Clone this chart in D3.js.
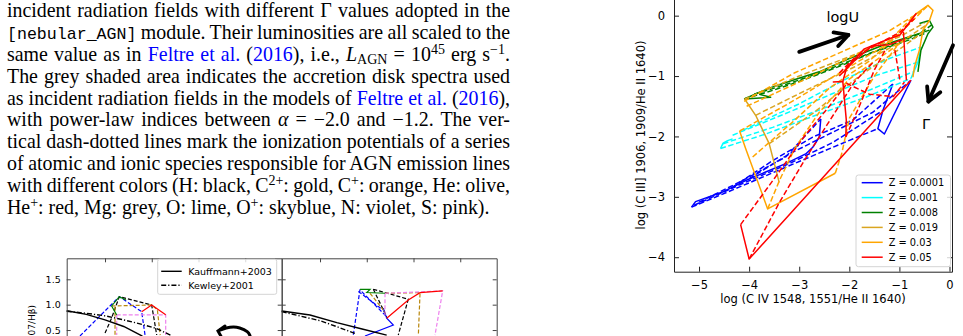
<!DOCTYPE html>
<html>
<head>
<meta charset="utf-8">
<script src="https://cdn.jsdelivr.net/npm/d3@7"></script>
<style>
html, body { margin: 0; padding: 0; background: #fff; }
svg { display: block; }
</style>
</head>
<body>
<svg id="page" width="963" height="336"></svg>
<script>
// ---- caption text (one array per printed line) ----
var captionLines = [
    [['incident radiation fields with different \u0393 values adopted in the', 'n']],
    [['[nebular_AGN]', 'mono'], [' module. Their luminosities are all scaled to the', 'n']],
    [['same value as in ', 'n'], ['Feltre et al.', 'link'], [' (', 'n'], ['2016', 'link'], ['), i.e., ', 'n'],
     ['L', 'ital'], ['AGN', 'sub'], [' = 10', 'n'], ['45', 'sup'], [' erg s', 'n'], ['\u22121', 'sup'], ['.', 'n']],
    [['The grey shaded area indicates the accretion disk spectra used', 'n']],
    [['as incident radiation fields in the models of ', 'n'], ['Feltre et al.', 'link'], [' (', 'n'], ['2016', 'link'], ['),', 'n']],
    [['with power-law indices between ', 'n'], ['\u03b1', 'ital'], [' = \u22122.0 and \u22121.2. The ver-', 'n']],
    [['tical dash-dotted lines mark the ionization potentials of a series', 'n']],
    [['of atomic and ionic species responsible for AGN emission lines', 'n']],
    [['with different colors (H: black, C', 'n'], ['2+', 'sup'], [': gold, C', 'n'], ['+', 'sup'], [': orange, He: olive,', 'n']],
    [['He', 'n'], ['+', 'sup'], [': red, Mg: grey, O: lime, O', 'n'], ['+', 'sup'], [': skyblue, N: violet, S: pink).', 'n']]
];

// ---- right chart: log CIII]/HeII vs log CIV/HeII ----
var xTicksR = [-5, -4, -3, -2, -1, 0];
var yTicksR = [-4, -3, -2, -1, 0];
var zLabels = ['Z = 0.0001', 'Z = 0.001', 'Z = 0.008', 'Z = 0.019', 'Z = 0.03', 'Z = 0.05'];
var zColors = ['#0000ff', '#00ffff', '#008000', '#daa520', '#ffa500', '#ff0000'];

// each track: [colour index, dashed?, points]
var tracksZ0001 = [
    [0, false, [[-5.15, -3.17], [-5.07, -3.08], [-4.53, -2.92], [-4.33, -2.84], [-4.07, -2.73], [-3.67, -2.59], [-3.27, -2.45], [-2.87, -2.29], [-2.73, -2.18], [-2.6, -2.01], [-2.57, -1.71]]],
    [0, false, [[-1.13, -1.13], [-1.33, -1.57], [-1.43, -1.87], [-1.3, -1.96], [-0.77, -1.07]]],
    [0, true, [[-5.15, -3.17], [-4.2, -2.84], [-3.27, -2.51], [-2.33, -2.18], [-1.43, -1.87]]],
    [0, true, [[-5.1, -3.14], [-4.13, -2.78], [-3.2, -2.45], [-2.33, -2.1], [-1.33, -1.57]]],
    [0, true, [[-5.0, -3.09], [-4.13, -2.73], [-3.27, -2.34], [-2.57, -1.71]]],
    [0, true, [[-4.33, -2.84], [-3.53, -2.4], [-2.73, -2.01], [-1.93, -1.73], [-1.13, -1.13]]],
    [0, true, [[-4.0, -2.7], [-3.2, -2.29], [-2.33, -1.93], [-1.53, -1.6], [-0.77, -1.07]]]
];
var tracksZ001 = [
    [1, false, [[-4.57, -2.2], [-4.52, -2.11], [-4.43, -2.07], [-4.33, -2.04]]],
    [1, false, [[-0.77, -1.04], [-0.63, -0.77], [-0.57, -0.52]]],
    [1, true, [[-4.57, -2.2], [-3.67, -1.96], [-2.67, -1.65], [-1.67, -1.35], [-0.77, -1.04]]],
    [1, true, [[-4.52, -2.12], [-3.53, -1.85], [-2.53, -1.54], [-1.53, -1.21], [-0.73, -0.93]]],
    [1, true, [[-4.33, -1.98], [-3.27, -1.62], [-2.33, -1.29], [-1.47, -0.99], [-0.63, -0.77]]],
    [1, true, [[-4.13, -1.9], [-3.0, -1.46], [-2.0, -1.02], [-1.2, -0.71], [-0.57, -0.52]]]
];
var tracksZ008 = [
    [2, false, [[-4.1, -1.38], [-3.6, -1.2], [-3.1, -1.06], [-2.6, -0.93], [-2.0, -0.71], [-1.33, -0.49], [-0.8, -0.35], [-0.4, -0.24]]],
    [2, false, [[-4.1, -1.38], [-3.57, -1.35], [-3.8, -1.3]]],
    [2, true, [[-4.1, -1.38], [-3.5, -1.23], [-2.9, -1.06], [-2.2, -0.84], [-1.5, -0.6], [-0.8, -0.4], [-0.45, -0.28]]],
    [2, true, [[-3.9, -1.3], [-3.3, -1.15], [-2.6, -0.95], [-1.9, -0.72], [-1.2, -0.5], [-0.6, -0.3], [-0.35, -0.15]]],
    [2, false, [[-0.63, -0.93], [-0.57, -0.57], [-0.43, -0.3], [-0.33, -0.19], [-0.4, -0.08], [-0.6, -0.13]]]
];
var tracksZ019 = [
    [3, false, [[-4.09, -1.38], [-3.87, -1.65], [-3.6, -2.12], [-3.4, -2.76]]],
    [3, true, [[-4.09, -1.38], [-3.0, -1.0], [-2.0, -0.68], [-1.0, -0.35], [-0.5, -0.12]]],
    [3, true, [[-3.87, -1.65], [-2.9, -1.25], [-1.9, -0.85], [-1.0, -0.45], [-0.45, -0.15]]],
    [3, true, [[-3.6, -2.12], [-2.7, -1.6], [-1.8, -1.0], [-0.9, -0.5], [-0.5, -0.25]]]
];
var tracksZ03 = [
    [4, false, [[-4.19, -1.91], [-4.07, -2.2], [-3.63, -3.2], [-2.28, -2.61]]],
    [4, false, [[-0.67, 0.03], [-0.43, 0.17], [-0.33, 0.09], [-0.4, -0.08], [-0.53, -0.24], [-0.6, -0.57], [-0.7, -0.85], [-0.73, -1.02]]],
    [4, true, [[-4.19, -1.91], [-3.2, -1.45], [-2.2, -0.95], [-1.3, -0.5], [-0.67, 0.03]]],
    [4, true, [[-4.05, -1.5], [-3.0, -1.1], [-2.0, -0.7], [-1.0, -0.3], [-0.43, 0.17]]],
    [4, true, [[-4.1, -1.42], [-3.1, -0.95], [-2.1, -0.58], [-1.2, -0.25], [-0.55, 0.08]]],
    [4, true, [[-3.63, -3.2], [-3.39, -2.72], [-3.09, -2.2], [-2.6, -1.6], [-2.0, -1.05], [-1.4, -0.7], [-0.8, -0.35]]],
    [4, true, [[-3.93, -2.34], [-3.09, -1.73], [-2.4, -1.2], [-1.6, -0.75], [-1.0, -0.3]]],
    [4, true, [[-2.28, -2.61], [-2.15, -2.28], [-2.0, -1.7], [-1.5, -1.0], [-1.0, -0.45]]]
];
var tracksZ05 = [
    [5, false, [[-4.17, -3.46], [-4.0, -4.03], [-0.77, -1.07]]],
    [5, false, [[-2.33, -1.1], [-2.13, -1.09], [-2.06, -1.73], [-2.07, -2.01]]],
    [5, false, [[-2.13, -1.09], [-2.05, -0.85], [-1.7, -0.55], [-1.25, -0.4], [-0.99, -0.32], [-0.66, 0.04]]],
    [5, false, [[-2.2, -1.0], [-1.9, -0.75], [-1.55, -0.5], [-1.2, -0.48], [-0.95, -0.4]]],
    [5, false, [[-0.92, -0.27], [-0.86, -1.07]]],
    [5, true, [[-4.17, -3.46], [-3.5, -2.7], [-2.9, -2.0], [-2.4, -1.5], [-2.07, -1.15]]],
    [5, true, [[-4.0, -4.03], [-3.4, -3.1], [-2.9, -2.4], [-2.4, -1.75], [-1.9, -1.1], [-1.5, -0.75]]],
    [5, true, [[-2.07, -2.01], [-1.8, -1.5], [-1.5, -0.9], [-1.27, -0.55]]],
    [5, true, [[-2.06, -1.12], [-1.6, -1.3], [-1.12, -1.34], [-0.9, -1.1]]],
    [5, true, [[-1.09, -0.57], [-0.99, -1.07]]],
    [5, true, [[-2.2, -0.95], [-1.9, -0.7], [-1.5, -0.5], [-1.0, -0.28], [-0.7, -0.05]]]
];

// annotation arrows [x0, y0, x1, y1] in data units
var arrowLogU = [-3.0, -0.6, -2.02, -0.32];
var arrowGamma = [0.07, -0.49, -0.42, -1.42];

// ---- lower-left BPT panels ----
var yTicksB = [0.5, 1.0, 1.5];
var xTicksB = [-1.0, -0.5, 0.0, 0.5];
var kauffmannLeft = [[-1.41, 0.88], [-1.2, 0.81], [-1.0, 0.7], [-0.8, 0.57], [-0.6, 0.38]];
var kewleyLeft = [[-1.41, 0.87], [-1.2, 0.83], [-1.0, 0.78], [-0.8, 0.7], [-0.6, 0.61], [-0.45, 0.53], [-0.3, 0.4]];
var solidRight = [[-1.41, 0.876], [-1.107, 0.797], [-0.82, 0.645], [-0.55, 0.52], [-0.287, 0.4]];
var dashDotRight = [[-1.41, 0.862], [-1.0, 0.684], [-0.82, 0.566], [-0.608, 0.422]];
// [colour, style, points]  style: s solid, d dashed
var bptLeft = [
    ['#0000ff', 'd', [[-1.268, 0.383], [-0.847, 1.158], [-0.608, 0.862], [-0.572, 0.4]]],
    ['#000000', 'd', [[-1.0, 0.44], [-0.929, 0.738], [-0.847, 1.158], [-0.501, 0.994], [-0.447, 0.402]]],
    ['#b8860b', 'd', [[-0.929, 0.974], [-0.501, 0.994], [-0.44, 0.9], [-0.41, 0.4]]],
    ['#b8860b', 'd', [[-0.893, 0.96], [-0.893, 0.4]]],
    ['#ee82ee', 'd', [[-0.875, 0.8], [-0.351, 0.8], [-0.351, 0.4]]],
    ['#ee82ee', 'd', [[-0.875, 0.8], [-0.875, 0.4]]],
    ['#008000', 's', [[-0.875, 0.797], [-0.929, 0.974], [-0.847, 1.158], [-0.776, 1.093]]],
    ['#ff0000', 's', [[-0.608, 0.862], [-0.501, 0.994], [-0.351, 0.8]]]
];
var bptRight = [
    ['#0000ff', 'd', [[-0.572, 1.304], [-0.644, 0.4]]],
    ['#0000ff', 'd', [[-0.554, 1.256], [-0.287, 0.763]]],
    ['#0000ff', 'd', [[-0.59, 1.26], [-0.33, 0.9]]],
    ['#0000ff', 's', [[-0.323, 0.929], [-0.287, 0.732], [-0.216, 0.6], [-0.519, 0.383]]],
    ['#000000', 'd', [[-0.43, 1.304], [-0.056, 1.107], [-0.163, 0.402]]],
    ['#000000', 'd', [[-0.43, 1.304], [-0.287, 0.763]]],
    ['#b8860b', 'd', [[-0.305, 1.225], [0.07, 1.237], [0.052, 0.402]]],
    ['#b8860b', 'd', [[-0.465, 1.225], [-0.323, 0.895]]],
    ['#ee82ee', 'd', [[-0.305, 1.225], [-0.305, 0.75]]],
    ['#ee82ee', 'd', [[-0.305, 1.225], [0.312, 1.27], [0.23, 0.4]]],
    ['#008000', 's', [[-0.572, 1.3], [-0.465, 1.3], [-0.5, 1.24], [-0.305, 1.225]]],
    ['#ff0000', 's', [[-0.287, 0.732], [-0.056, 1.093], [0.07, 1.237], [0.312, 1.27]]]
];
var curvedArrow = [[0.23, 0.5], [0.337, 0.566], [0.444, 0.554], [0.533, 0.467], [0.551, 0.385]];

var page = d3.select('#page');
var sans = '"DejaVu Sans", sans-serif';

// ---------- caption ----------
var textLeft = 7, textRight = 510;
var capG = page.append('g')
    .attr('font-family', '"Liberation Serif", "Times New Roman", serif')
    .attr('font-size', 19.9)
    .attr('fill', '#000');

captionLines.forEach(function(line, i) {
    var t = capG.append('text')
        .attr('x', textLeft)
        .attr('y', 17.3 + i * 21.8)
        .style('white-space', 'pre');
    var shift = 0;
    line.forEach(function(seg) {
        var s = t.append('tspan').text(seg[0]);
        var want = seg[1] === 'sup' ? -7 : (seg[1] === 'sub' ? 3.5 : 0);
        if (want !== shift) {
            s.attr('dy', want - shift);
            shift = want;
        }
        if (seg[1] === 'sup' || seg[1] === 'sub') s.attr('font-size', 14);
        if (seg[1] === 'mono') s.attr('font-family', '"Liberation Mono", monospace').attr('font-size', 16.6);
        if (seg[1] === 'link') s.attr('fill', '#0000ff');
        if (seg[1] === 'ital') s.attr('font-style', 'italic');
    });
    if (i < captionLines.length - 1) {
        var natural = t.node().getComputedTextLength();
        var spaces = line.map(function(s) { return s[0]; }).join('').split(' ').length - 1;
        t.style('word-spacing', ((textRight - textLeft - natural) / spaces) + 'px');
    }
});

// ---------- right chart ----------
var xR = d3.scaleLinear().domain([-5.5, 0.05]).range([674, 952]);
var yR = d3.scaleLinear().domain([-4.24, 0.42]).range([271.7, -9.7]);
var gR = page.append('g');

// white backing so the caption never shows through the plot
gR.append('rect').attr('x', 600).attr('y', 0).attr('width', 363).attr('height', 336).attr('fill', '#fff');

var lineR = d3.line().x(function(d) { return xR(d[0]); }).y(function(d) { return yR(d[1]); });
var allTracks = tracksZ0001.concat(tracksZ001, tracksZ008, tracksZ019, tracksZ03, tracksZ05);
gR.selectAll('path.track')
    .data(allTracks)
    .enter()
    .append('path')
        .attr('class', 'track')
        .attr('d', function(d) { return lineR(d[2]); })
        .attr('fill', 'none')
        .attr('stroke', function(d) { return zColors[d[0]]; })
        .attr('stroke-width', 1.5)
        .attr('stroke-linejoin', 'round')
        .attr('stroke-dasharray', function(d) { return d[1] ? '5.5,2.6' : null; });

function styleAxis(g, size) {
    g.selectAll('.domain').attr('stroke', '#222');
    g.selectAll('.tick line').attr('stroke', '#222');
    g.selectAll('text').attr('font-family', sans).attr('font-size', size).attr('fill', '#000');
}

var axB = gR.append('g').attr('transform', 'translate(0,271.7)')
    .call(d3.axisBottom(xR).tickValues(xTicksR).tickSize(-5).tickSizeOuter(0).tickPadding(9)
        .tickFormat(d3.format('d')));
styleAxis(axB, 11.5);
var axL = gR.append('g').attr('transform', 'translate(674,0)')
    .call(d3.axisLeft(yR).tickValues(yTicksR).tickSize(-5).tickSizeOuter(0).tickPadding(9)
        .tickFormat(d3.format('d')));
styleAxis(axL, 11.5);
var axRt = gR.append('g').attr('transform', 'translate(952,0)')
    .call(d3.axisRight(yR).tickValues(yTicksR).tickSize(-5).tickSizeOuter(0).tickFormat(''));
styleAxis(axRt, 11.5);

gR.append('text')
    .attr('x', 813).attr('y', 303)
    .attr('text-anchor', 'middle')
    .attr('font-family', sans).attr('font-size', 11.5)
    .text('log (C IV 1548, 1551/He II 1640)');
gR.append('text')
    .attr('transform', 'translate(645,135) rotate(-90)')
    .attr('text-anchor', 'middle')
    .attr('font-family', sans).attr('font-size', 11.5)
    .text('log (C III] 1906, 1909/He II 1640)');

// arrows
function drawArrow(g, a, sx, sy, head) {
    var x0 = sx(a[0]), y0 = sy(a[1]), x1 = sx(a[2]), y1 = sy(a[3]);
    var ang = Math.atan2(y1 - y0, x1 - x0);
    g.append('line')
        .attr('x1', x0).attr('y1', y0).attr('x2', x1).attr('y2', y1)
        .attr('stroke', '#000').attr('stroke-width', 3.8).attr('stroke-linecap', 'round');
    [-0.5, 0.5].forEach(function(da) {
        g.append('line')
            .attr('x1', x1).attr('y1', y1)
            .attr('x2', x1 - head * Math.cos(ang + da))
            .attr('y2', y1 - head * Math.sin(ang + da))
            .attr('stroke', '#000').attr('stroke-width', 3.8).attr('stroke-linecap', 'round');
    });
}
drawArrow(gR, arrowLogU, xR, yR, 15);
drawArrow(gR, arrowGamma, xR, yR, 15);
gR.append('text')
    .attr('x', xR(-2.13)).attr('y', yR(-0.1))
    .attr('text-anchor', 'middle')
    .attr('font-family', sans).attr('font-size', 14.5)
    .text('logU');
gR.append('text')
    .attr('x', xR(-0.47)).attr('y', yR(-1.88))
    .attr('text-anchor', 'middle')
    .attr('font-family', sans).attr('font-size', 14.5)
    .text('\u0393');

// legend
var leg = gR.append('g').attr('transform', 'translate(856,175)');
leg.append('rect')
    .attr('width', 94.5).attr('height', 91.7).attr('rx', 2.5)
    .attr('fill', '#fff').attr('fill-opacity', 0.8)
    .attr('stroke', '#d4d4d4').attr('stroke-width', 1);
zLabels.forEach(function(lab, i) {
    var yy = 7.7 + i * 14.9;
    leg.append('line')
        .attr('x1', 5.7).attr('x2', 26.7).attr('y1', yy).attr('y2', yy)
        .attr('stroke', zColors[i]).attr('stroke-width', 1.5);
    leg.append('text')
        .attr('x', 32.7).attr('y', yy + 3.5)
        .attr('font-family', sans).attr('font-size', 9.8)
        .text(lab);
});

// ---------- lower-left BPT panels ----------
var panelTop = 258.3;
var yB = d3.scaleLinear().domain([0, 1.914]).range([355.4, panelTop]);
var xB1 = d3.scaleLinear().domain([-1.41, 0.89]).range([66.7, 281.7]);
var xB2 = d3.scaleLinear().domain([-1.41, 0.89]).range([281.7, 496.7]);
var gB = page.append('g');

function drawPanel(sx, curves, tracks, leftLabels) {
    var ln = d3.line().x(function(d) { return sx(d[0]); }).y(function(d) { return yB(d[1]); });
    var p = gB.append('g');
    tracks.forEach(function(t) {
        p.append('path')
            .attr('d', ln(t[2]))
            .attr('fill', 'none')
            .attr('stroke', t[0])
            .attr('stroke-width', 1.2)
            .attr('stroke-dasharray', t[1] === 'd' ? '4,2' : null);
    });
    p.append('path').attr('d', ln(curves[0]))
        .attr('fill', 'none').attr('stroke', '#000').attr('stroke-width', 1.4);
    p.append('path').attr('d', ln(curves[1]))
        .attr('fill', 'none').attr('stroke', '#000').attr('stroke-width', 1.4)
        .attr('stroke-dasharray', '5,2,1.2,2');

    var r = sx.range();
    var aTop = p.append('g').attr('transform', 'translate(0,' + panelTop + ')')
        .call(d3.axisTop(sx).tickValues(xTicksB).tickSize(-4).tickSizeOuter(0).tickFormat(''));
    styleAxis(aTop, 9.5);
    var aL = p.append('g').attr('transform', 'translate(' + r[0] + ',0)')
        .call(d3.axisLeft(yB).tickValues(yTicksB).tickSize(-4).tickSizeOuter(0).tickPadding(6)
            .tickFormat(leftLabels ? d3.format('.1f') : ''));
    styleAxis(aL, 9.5);
    var aR = p.append('g').attr('transform', 'translate(' + r[1] + ',0)')
        .call(d3.axisRight(yB).tickValues(yTicksB).tickSize(-4).tickSizeOuter(0).tickFormat(''));
    styleAxis(aR, 9.5);
    p.selectAll('.domain').attr('stroke', '#444');
    p.selectAll('.tick line').attr('stroke', '#444');
    return p;
}
drawPanel(xB1, [kauffmannLeft, kewleyLeft], bptLeft, true);
drawPanel(xB2, [solidRight, dashDotRight], bptRight, false);

gB.append('text')
    .attr('transform', 'translate(35,305) rotate(-90)')
    .attr('text-anchor', 'end')
    .attr('font-family', sans).attr('font-size', 9)
    .text('log ([O III] 5007/H\u03b2)');

// curved arrow in left panel
var arcLine = d3.line().curve(d3.curveBasis)
    .x(function(d) { return xB1(d[0]); }).y(function(d) { return yB(d[1]); });
gB.append('path').attr('d', arcLine(curvedArrow))
    .attr('fill', 'none').attr('stroke', '#000').attr('stroke-width', 3).attr('stroke-linecap', 'round');
var tipX = xB1(curvedArrow[0][0]) - 2, tipY = yB(curvedArrow[0][1]) + 1;
gB.append('path')
    .attr('d', 'M' + (tipX + 7) + ',' + (tipY - 5) + 'L' + tipX + ',' + tipY + 'L' + (tipX + 4) + ',' + (tipY + 7))
    .attr('fill', 'none').attr('stroke', '#000').attr('stroke-width', 3).attr('stroke-linecap', 'round');

// BPT legend
var legB = gB.append('g').attr('transform', 'translate(157.7,259.3)');
legB.append('rect')
    .attr('width', 119).attr('height', 35).attr('rx', 2)
    .attr('fill', '#fff').attr('fill-opacity', 0.8)
    .attr('stroke', '#d4d4d4');
[['Kauffmann+2003', null], ['Kewley+2001', '5,2,1.2,2']].forEach(function(e, i) {
    var yy = 12 + i * 14;
    legB.append('line')
        .attr('x1', 3.5).attr('x2', 24).attr('y1', yy).attr('y2', yy)
        .attr('stroke', '#000').attr('stroke-width', 1.4)
        .attr('stroke-dasharray', e[1]);
    legB.append('text')
        .attr('x', 30.5).attr('y', yy + 3.4)
        .attr('font-family', sans).attr('font-size', 9.5)
        .text(e[0]);
});
</script>
</body>
</html>
